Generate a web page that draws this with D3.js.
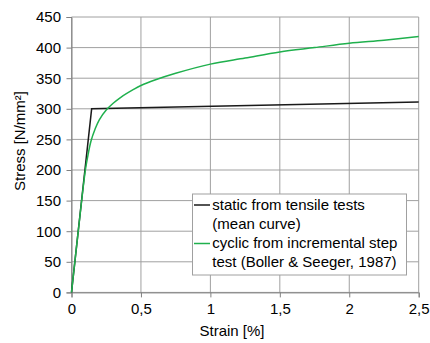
<!DOCTYPE html>
<html lang="en">
<head>
<meta charset="utf-8">
<title>Stress-strain curves</title>
<script src="https://d3js.org/d3.v7.min.js"></script>
<style>
  body { margin: 0; background: #fff; }
  text { font-family: "Liberation Sans", Arial, sans-serif; fill: #000; }
  .tick text { font-size: 15px; }
  .label { font-size: 15px; }
  .legend text { font-size: 15px; }
</style>
</head>
<body>
<div id="vis"></div>
<script>
// static curve (mean of tensile tests)
const staticStrain = [0, 0.145, 2.5];
const staticStress = [0, 300, 311];

// cyclic curve (incremental step test)
const cyclicStrain = [0, 0.05, 0.10, 0.12, 0.14, 0.17, 0.20, 0.25, 0.30, 0.35, 0.45, 0.5, 0.6, 0.75, 1.0, 1.25, 1.5, 1.75, 2.0, 2.25, 2.5];
const cyclicStress = [0, 103, 200, 226, 247, 267, 282, 298, 309, 318, 332, 338, 347, 358, 373, 383, 393, 400, 407, 412, 418];

const xTicks = [0, 0.5, 1, 1.5, 2, 2.5];
const yTicks = [0, 50, 100, 150, 200, 250, 300, 350, 400, 450];

const width = 430, height = 343;
const plotLeft = 71.5, plotRight = 418.7, plotTop = 17, plotBottom = 292.4;

const svg = d3.select("#vis").append("svg")
    .attr("width", width)
    .attr("height", height);

const x = d3.scaleLinear().domain([0, 2.5]).range([plotLeft, plotRight]);
const y = d3.scaleLinear().domain([0, 450]).range([plotBottom, plotTop]);

const fmt = d => String(d).replace(".", ",");

// grid
svg.append("g").selectAll("line").data(yTicks).enter().append("line")
    .attr("x1", plotLeft).attr("x2", plotRight)
    .attr("y1", d => y(d)).attr("y2", d => y(d))
    .attr("stroke", "#a0a0a0").attr("stroke-width", 1);
svg.append("g").selectAll("line").data(xTicks).enter().append("line")
    .attr("x1", d => x(d)).attr("x2", d => x(d))
    .attr("y1", plotTop).attr("y2", plotBottom)
    .attr("stroke", "#a0a0a0").attr("stroke-width", 1);

// axes
const xAxis = svg.append("g")
    .attr("transform", "translate(0," + plotBottom + ")")
    .call(d3.axisBottom(x).tickValues(xTicks).tickFormat(fmt).tickSize(5).tickPadding(6));
const yAxis = svg.append("g")
    .attr("transform", "translate(" + plotLeft + ",0)")
    .call(d3.axisLeft(y).tickValues(yTicks).tickSize(5).tickPadding(5.5));
[xAxis, yAxis].forEach(a => {
  a.select(".domain").attr("stroke", "#808080");
  a.selectAll(".tick line").attr("stroke", "#808080");
  a.attr("font-family", null).attr("font-size", null);
});

// curves
const line = d3.line().x(d => x(d[0])).y(d => y(d[1]));
svg.append("path")
    .datum(d3.zip(staticStrain, staticStress))
    .attr("fill", "none").attr("stroke", "#1a1a1a").attr("stroke-width", 1.5)
    .attr("d", line);
svg.append("path")
    .datum(d3.zip(cyclicStrain, cyclicStress))
    .attr("fill", "none").attr("stroke", "#1fb04d").attr("stroke-width", 1.5)
    .attr("d", line.curve(d3.curveCatmullRom));

// axis labels
svg.append("text").attr("class", "label")
    .attr("x", 232).attr("y", 336).attr("text-anchor", "middle")
    .text("Strain [%]");
svg.append("text").attr("class", "label")
    .attr("transform", "translate(25,141) rotate(-90)")
    .attr("text-anchor", "middle")
    .text("Stress [N/mm²]");

// legend
const lg = svg.append("g").attr("class", "legend");
lg.append("rect")
    .attr("x", 192.5).attr("y", 194).attr("width", 214).attr("height", 81)
    .attr("fill", "#fff").attr("stroke", "#a0a0a0");
const entries = [
  {color: "#1a1a1a", lines: ["static from tensile tests", "(mean curve)"], y: 209.5},
  {color: "#1fb04d", lines: ["cyclic from incremental step", "test (Boller & Seeger, 1987)"], y: 248}
];
entries.forEach(e => {
  lg.append("line")
    .attr("x1", 194).attr("x2", 210)
    .attr("y1", e.y - 4.5).attr("y2", e.y - 4.5)
    .attr("stroke", e.color).attr("stroke-width", 1.5);
  e.lines.forEach((t, i) => {
    lg.append("text").attr("x", 212.3).attr("y", e.y + i * 19).text(t);
  });
});
</script>
</body>
</html>
